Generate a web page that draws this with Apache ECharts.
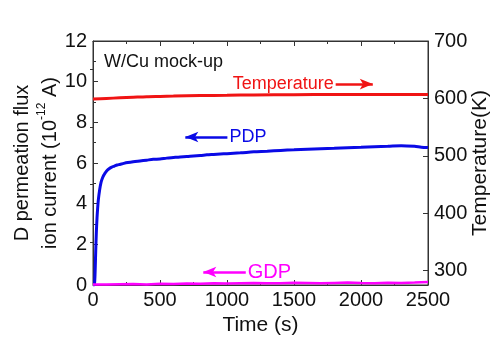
<!DOCTYPE html>
<html><head><meta charset="utf-8">
<script src="https://cdn.jsdelivr.net/npm/echarts@6/dist/echarts.min.js"></script>
<style>html,body{margin:0;padding:0;background:#fff}#c{width:495px;height:345px}</style>
</head><body><div id="c"></div>
<script>
// Time (s) and values
const pdpTime = [0,10,15,20,25,30,35,40,50,60,70,80,90,100,120,140,160,180,200,230,260,300,350,400,450,500,550,600,650,700,750,800,850,900,950,1000,1100,1200,1300,1400,1500,1600,1700,1800,1900,2000,2100,2200,2300,2400,2450,2500];
const pdpValue = [0,0.02,0.5,1.6,2.6,3.3,3.8,4.2,4.7,5.05,5.25,5.4,5.5,5.6,5.72,5.8,5.85,5.9,5.93,5.98,6.02,6.06,6.1,6.14,6.18,6.2,6.24,6.27,6.3,6.32,6.35,6.37,6.4,6.42,6.44,6.46,6.5,6.55,6.58,6.62,6.65,6.68,6.7,6.72,6.75,6.77,6.8,6.82,6.85,6.82,6.78,6.76];
const gdpTime = [0,100,200,300,400,500,600,700,800,900,1000,1100,1200,1300,1400,1500,1600,1700,1800,1900,2000,2100,2200,2300,2400,2500];
const gdpValue = [0.03,0.03,0.04,0.05,0.03,0.06,0.05,0.07,0.06,0.08,0.07,0.09,0.1,0.08,0.09,0.11,0.1,0.08,0.1,0.12,0.1,0.09,0.11,0.1,0.12,0.15];
const tempTime = [0,100,200,300,400,500,600,800,1000,1200,1500,1800,2000,2200,2500];
const tempValue = [599,600,601,602,603,603.5,604,605,605.5,606,606.5,607,607,607,607];
const xTicks = [0,500,1000,1500,2000,2500];
const rightTicks = [300,400,500,600,700];
const rightMinorTicks = [350,450,550,650];

const zip = (a,b)=>a.map((v,i)=>[v,b[i]]);
const font = 'Liberation Sans, Arial, sans-serif';
const axisColor = '#333';
const arrow = (color, text, size, from, to) => ({
  silent:true,symbol:['none','arrow'],symbolSize:[8,13],
  lineStyle:{color:color,width:2.5,type:'solid'},
  label:{show:true,position:'start',distance:2,formatter:text,fontFamily:font,fontSize:size,color:color},
  data:[[{coord:from},{coord:to}]]
});
const chart = echarts.init(document.getElementById('c'));
chart.setOption({
  animation:false,
  title:{text:'W/Cu mock-up',left:99,top:48,textStyle:{fontFamily:font,fontSize:18,fontWeight:'normal',color:'#111'}},
  grid:{left:93,right:67,top:41,bottom:60,containLabel:false,outerBoundsMode:'none',
        show:true,borderColor:axisColor,borderWidth:1,backgroundColor:'transparent'},
  xAxis:[{
    type:'value',min:0,max:2500,interval:500,
    name:'Time (s)',nameLocation:'middle',nameGap:30,nameMoveOverlap:false,
    nameTextStyle:{fontFamily:font,fontSize:21,color:'#111'},
    axisLine:{lineStyle:{color:axisColor,width:1}},
    axisTick:{inside:true,length:5,customValues:xTicks,lineStyle:{color:axisColor}},
    minorTick:{show:true,splitNumber:2,length:3,lineStyle:{color:axisColor}},
    axisLabel:{fontFamily:font,fontSize:20,color:'#111',margin:5,customValues:xTicks,formatter:v=>String(v)},
    splitLine:{show:false}
  },{
    type:'value',min:0,max:2500,interval:500,position:'top',
    axisLine:{show:true,onZero:false,lineStyle:{color:axisColor}},
    axisTick:{show:true,inside:true,length:5,lineStyle:{color:axisColor}},
    minorTick:{show:true,splitNumber:2,length:3,lineStyle:{color:axisColor}},
    axisLabel:{show:false},splitLine:{show:false}
  }],
  yAxis:[{
    type:'value',min:0,max:12,interval:2,position:'left',
    name:'D permeation flux\nion current (10{sup|-12} A)',nameLocation:'middle',nameGap:29,nameRotate:90,nameMoveOverlap:false,
    nameTextStyle:{fontFamily:font,fontSize:20,color:'#111',lineHeight:28,
      rich:{sup:{fontFamily:font,fontSize:12,color:'#111',verticalAlign:'top',lineHeight:28,padding:[0,0,10,0]}}},
    axisLine:{show:true,onZero:false,lineStyle:{color:axisColor}},
    axisTick:{inside:true,length:5,lineStyle:{color:axisColor}},
    minorTick:{show:true,splitNumber:2,length:3,lineStyle:{color:axisColor}},
    axisLabel:{fontFamily:font,fontSize:20,color:'#111',margin:6},
    splitLine:{show:false}
  },{
    type:'value',min:275,max:700,position:'right',
    name:'Temperature(K)',nameLocation:'middle',nameGap:42,nameRotate:90,nameMoveOverlap:false,
    nameTextStyle:{fontFamily:font,fontSize:21,color:'#111'},
    axisLine:{show:true,onZero:false,lineStyle:{color:axisColor}},
    axisTick:{inside:true,length:5,customValues:rightTicks,lineStyle:{color:axisColor}},
    axisLabel:{fontFamily:font,fontSize:20,color:'#111',margin:6,customValues:rightTicks},
    splitLine:{show:false}
  },{
    type:'value',min:275,max:700,position:'right',
    axisLine:{show:false},
    axisTick:{inside:true,length:3,customValues:rightMinorTicks,lineStyle:{color:axisColor}},
    axisLabel:{show:false,customValues:rightMinorTicks},
    splitLine:{show:false}
  }],
  series:[{
    name:'PDP',type:'line',xAxisIndex:0,yAxisIndex:0,data:zip(pdpTime,pdpValue),
    showSymbol:false,smooth:0.3,lineStyle:{color:'#0a0ae6',width:3},
    markLine:arrow('#0a0ae6','PDP',18,[1003,7.28],[689,7.28])
  },{
    name:'GDP',type:'line',xAxisIndex:0,yAxisIndex:0,data:zip(gdpTime,gdpValue),
    showSymbol:false,lineStyle:{color:'#ff00ff',width:2.5},
    markLine:arrow('#ff00ff','GDP',20,[1140,0.64],[823,0.64])
  },{
    name:'Temperature',type:'line',xAxisIndex:0,yAxisIndex:1,data:zip(tempTime,tempValue),
    showSymbol:false,smooth:0.3,lineStyle:{color:'#f01414',width:3},
    markLine:arrow('#f01414','Temperature',18,[1811,625],[2088,625])
  }]
});
</script></body></html>
